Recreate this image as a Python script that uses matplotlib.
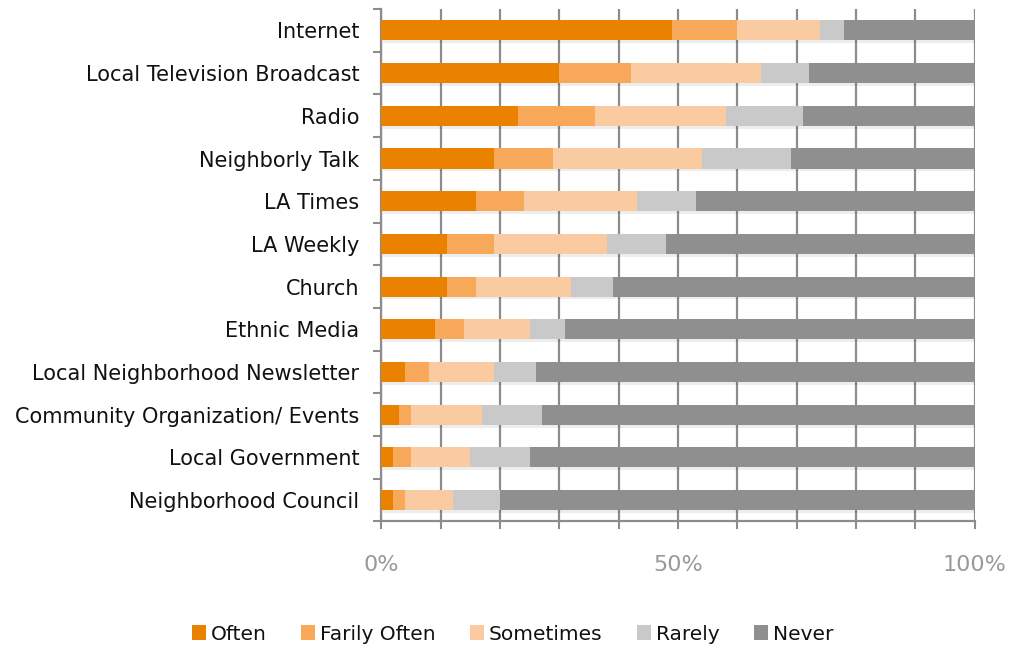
import matplotlib
matplotlib.use("Agg")
import matplotlib.pyplot as plt
import matplotlib.patheffects as pe
import numpy as np

categories = ["Internet", "Local Television Broadcast", "Radio", "Neighborly Talk",
              "LA Times", "LA Weekly", "Church", "Ethnic Media",
              "Local Neighborhood Newsletter", "Community Organization/ Events",
              "Local Government", "Neighborhood Council"]
series_names = ["Often", "Farily Often", "Sometimes", "Rarely", "Never"]
often        = [49, 30, 23, 19, 16, 11, 11, 9, 4, 3, 2, 2]
fairly_often = [11, 12, 13, 10, 8, 8, 5, 5, 4, 2, 3, 2]
sometimes    = [14, 22, 22, 25, 19, 19, 16, 11, 11, 12, 10, 8]
rarely       = [4, 8, 13, 15, 10, 10, 7, 6, 7, 10, 10, 8]
never        = [22, 28, 29, 31, 47, 52, 61, 69, 74, 73, 75, 80]
x_ticklabels = ["0%", "50%", "100%"]

colors = ["#EA8200", "#F8A859", "#FACBA1", "#C9C9C9", "#8F8F8F"]
plt.rcParams['font.family'] = ['DejaVu Sans']

fig = plt.figure(figsize=(10.09, 6.47), dpi=100)
ax = fig.add_axes([0.378, 0.194, 0.588, 0.792])

data = np.array([often, fairly_often, sometimes, rarely, never], dtype=float)
data = data / data.sum(axis=0) * 100
y = np.arange(len(categories))
left = np.zeros(len(categories))
shadow = [pe.SimplePatchShadow(offset=(1.0, -2.0), shadow_rgbFace='#000000', alpha=0.07), pe.Normal()]
for i, name in enumerate(series_names):
    ax.barh(y, data[i], left=left, height=0.47, color=colors[i], label=name,
            zorder=3, path_effects=shadow)
    left += data[i]

ax.set_ylim(len(categories) - 0.5, -0.5)
ax.set_xlim(0, 100)
ax.set_yticks(y)
ax.set_yticklabels(categories, fontsize=15, color='#111111')
ax.set_yticks(np.arange(-0.5, len(categories), 1), minor=True)
ax.tick_params(axis='y', which='major', length=0, pad=16)
ax.tick_params(axis='y', which='minor', length=6, width=1.5, color='#8C8C8C', direction='out')

ax.set_xticks(np.arange(0, 101, 10))
ax.set_xticklabels([x_ticklabels[0] if v == 0 else x_ticklabels[1] if v == 50 else x_ticklabels[2] if v == 100 else "" for v in range(0, 101, 10)],
                   fontsize=16, color='#999999')
ax.tick_params(axis='x', length=6, width=1.5, color='#8C8C8C', direction='out', pad=18)
ax.grid(axis='x', color='#8C8C8C', linewidth=1.6, zorder=0)
ax.set_axisbelow(True)

for s in ['top', 'right']:
    ax.spines[s].set_visible(False)
for s in ['left', 'bottom']:
    ax.spines[s].set_color('#8C8C8C')
    ax.spines[s].set_linewidth(1.6)

leg = fig.legend(loc='center', bbox_to_anchor=(0.508, 0.02), ncol=5, frameon=False,
                 fontsize=14.5, handlelength=0.7, handleheight=0.7, handletextpad=0.25,
                 columnspacing=1.7)
for h in leg.legend_handles:
    h.set_path_effects([pe.Normal()])
for t in leg.get_texts():
    t.set_color('#111111')

fig.savefig("out.png", dpi=100)
